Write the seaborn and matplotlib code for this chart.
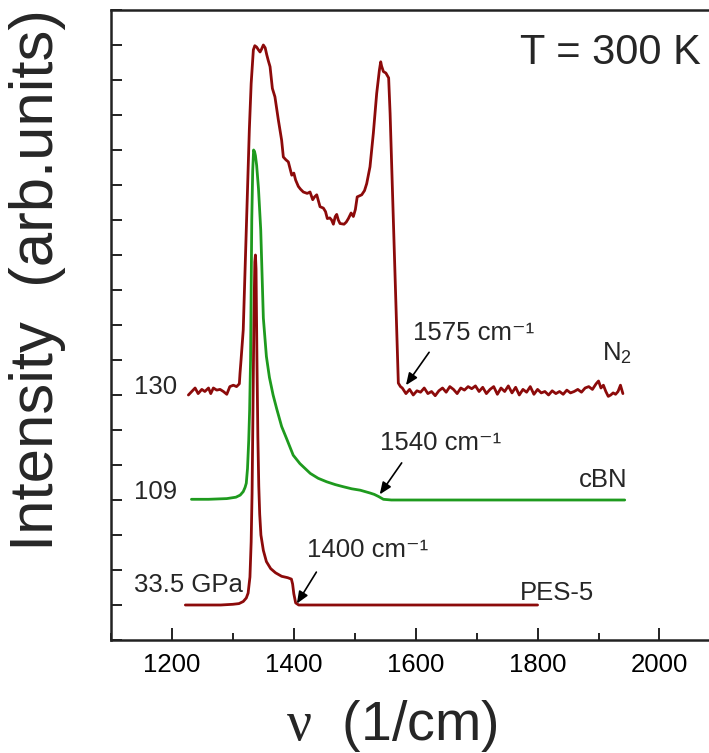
import matplotlib
matplotlib.use("Agg")
import matplotlib.pyplot as plt
import seaborn as sns
from matplotlib.ticker import MultipleLocator

# Raman spectra (offset vertically), wavenumber in 1/cm, intensity in arb. units
pes_x = [1222, 1250, 1280, 1300, 1310, 1317, 1322, 1325, 1328, 1330, 1331.5, 1333,
         1334.5, 1336, 1337, 1338, 1339.5, 1341, 1342.5, 1344, 1346, 1350, 1355,
         1362, 1370, 1380, 1390, 1396, 1398, 1400, 1403, 1408, 1420, 1500, 1600,
         1700, 1800]
pes_y = [0.50, 0.50, 0.50, 0.51, 0.52, 0.55, 0.60, 0.67, 0.90, 1.40, 2.10, 3.30,
         4.60, 5.40, 5.50, 5.30, 4.00, 2.90, 2.20, 1.80, 1.50, 1.28, 1.12,
         1.02, 0.96, 0.91, 0.89, 0.87, 0.80, 0.66, 0.53, 0.50, 0.50, 0.50, 0.50,
         0.50, 0.50]

cbn_x = [1232, 1260, 1290, 1305, 1312, 1317, 1320, 1322, 1324, 1326, 1327.5, 1329,
         1330, 1331, 1332.5, 1334, 1335.5, 1337, 1339, 1342, 1345.7, 1350, 1355,
         1360, 1366, 1372, 1380, 1388, 1399, 1410, 1427, 1440, 1454, 1468, 1481,
         1495, 1509, 1525, 1532, 1539, 1547, 1560, 1600, 1700, 1800, 1900, 1943]
cbn_y = [2.01, 2.01, 2.02, 2.04, 2.07, 2.12, 2.18, 2.24, 2.45, 2.85, 3.29, 4.00,
         5.00, 6.00, 6.70, 7.00, 6.98, 6.92, 6.78, 6.45, 5.86, 4.60, 4.05,
         3.75, 3.50, 3.30, 3.05, 2.88, 2.64, 2.52, 2.38, 2.31, 2.26, 2.22, 2.19,
         2.16, 2.14, 2.10, 2.08, 2.05, 2.01, 2.00, 2.00, 2.00, 2.00, 2.00, 2.00]

n2_x = [1227, 1232.5, 1238, 1243, 1249, 1254, 1260, 1263.7, 1268, 1273.5, 1279,
        1284.4, 1290, 1295, 1300.8, 1306, 1310.6, 1311.7, 1313.4, 1317, 1322,
        1327, 1330, 1333.6, 1336, 1339, 1342, 1344.6, 1347, 1350, 1353, 1355.6,
        1358, 1361, 1364.8, 1369, 1374.6, 1380, 1382.8, 1387, 1391, 1396.6, 1400,
        1403, 1407.4, 1411, 1415.6, 1422, 1426.6, 1431, 1434, 1437.6, 1443,
        1448.5, 1452, 1455, 1459, 1462, 1464.9, 1468, 1470.4, 1473, 1475.8,
        1482.4, 1486, 1489.5, 1494, 1497.7, 1501, 1504, 1511.4, 1516, 1519.6,
        1525, 1530.5, 1536, 1540.4, 1542.6, 1544, 1547, 1551, 1555.6, 1558, 1561,
        1566, 1571.5, 1575, 1578, 1584, 1590, 1596, 1602, 1608, 1614, 1620, 1626,
        1632, 1638, 1644, 1650, 1656, 1662, 1668, 1674, 1680, 1686, 1692, 1698,
        1704, 1710, 1716, 1722, 1728, 1734, 1740, 1746, 1752, 1758, 1764, 1770,
        1776, 1782, 1788, 1794, 1800, 1806, 1812, 1818, 1824, 1830, 1836, 1842,
        1848, 1854, 1860, 1866, 1872, 1878, 1884, 1890, 1896, 1900, 1904, 1908,
        1912, 1916, 1920, 1924, 1928, 1932, 1936, 1940]
n2_y = [3.50, 3.55, 3.60, 3.52, 3.58, 3.55, 3.60, 3.52, 3.60, 3.57, 3.58,
        3.55, 3.51, 3.62, 3.64, 3.62, 3.66, 3.81, 4.00, 4.43, 5.86,
        7.29, 7.95, 8.43, 8.49, 8.47, 8.43, 8.40, 8.44, 8.50, 8.46, 8.36,
        8.28, 8.19, 7.88, 7.76, 7.43, 7.14, 6.90, 6.86, 6.83, 6.64, 6.67,
        6.57, 6.48, 6.44, 6.40, 6.38, 6.40, 6.29, 6.33, 6.36, 6.19,
        6.17, 6.12, 6.02, 6.03, 6.00, 5.94, 6.05, 6.08, 6.00, 5.95,
        5.94, 5.97, 6.02, 6.10, 6.05, 6.15, 6.33, 6.36, 6.42, 6.52,
        6.76, 7.24, 7.81, 8.14, 8.26, 8.20, 8.12, 8.10, 8.03, 7.52, 6.67,
        5.24, 3.67, 3.62, 3.60, 3.52, 3.58, 3.50, 3.56, 3.54, 3.60, 3.52, 3.55,
        3.49, 3.56, 3.60, 3.54, 3.62, 3.58, 3.52, 3.60, 3.57, 3.62, 3.59, 3.63,
        3.55, 3.61, 3.52, 3.58, 3.62, 3.51, 3.60, 3.55, 3.63, 3.53, 3.61, 3.50,
        3.58, 3.54, 3.62, 3.51, 3.58, 3.53, 3.55, 3.50, 3.56, 3.52, 3.55, 3.51,
        3.57, 3.53, 3.55, 3.58, 3.54, 3.60, 3.62, 3.58, 3.66, 3.70, 3.60, 3.64,
        3.55, 3.48, 3.50, 3.53, 3.51, 3.55, 3.64, 3.52]

# pressure labels at the left end of each trace
pressure_labels = ["130", "109", "33.5 GPa"]
pressure_xy = [(1208, 3.61), (1208, 2.11), (1317, 0.79)]

# edge annotations: text, text position, arrow tail, arrow head
edge_labels = ["1575 cm\u207b\u00b9", "1540 cm\u207b\u00b9", "1400 cm\u207b\u00b9"]
edge_text_xy = [(1596, 4.39), (1541, 2.81), (1421, 1.29)]
edge_tail_xy = [(1622, 4.11), (1577, 2.53), (1437, 0.97)]
edge_head_xy = [(1584, 3.64), (1541, 2.08), (1405, 0.52)]

sample_labels = ["N$_{\\mathregular{2}}$", "cBN", "PES-5"]
sample_xy = [(1906, 4.10), (1868, 2.29), (1771, 0.67)]

dark_red = "#8c0a0a"
green = "#1e9a1e"

sns.set_theme(style="white")
plt.rcParams["font.family"] = ["Liberation Sans", "DejaVu Sans"]
plt.rcParams["mathtext.fontset"] = "custom"
plt.rcParams["mathtext.rm"] = "Liberation Serif"
plt.rcParams["mathtext.it"] = "Liberation Serif:italic"
plt.rcParams["mathtext.bf"] = "Liberation Serif:bold"

fig = plt.figure(figsize=(7.09, 7.53), dpi=100)
ax = fig.add_axes([111 / 709, 113 / 753, 609.4 / 709, 630 / 753])

sns.lineplot(x=pes_x, y=pes_y, ax=ax, color=dark_red, lw=2.0, estimator=None, sort=False)
sns.lineplot(x=cbn_x, y=cbn_y, ax=ax, color=green, lw=2.0, estimator=None, sort=False)
sns.lineplot(x=n2_x, y=n2_y, ax=ax, color=dark_red, lw=2.0, estimator=None, sort=False)

ax.set_xlim(1100, 2100)
ax.set_ylim(0, 9)

ax.xaxis.set_major_locator(MultipleLocator(200))
ax.xaxis.set_minor_locator(MultipleLocator(100))
ax.yaxis.set_major_locator(MultipleLocator(0.5))
ax.tick_params(axis="x", which="major", direction="in", length=8.5, width=1.4,
               bottom=True, top=False, labelsize=18.5, pad=9, color="#222222",
               labelcolor="black")
ax.tick_params(axis="x", which="minor", direction="in", length=5, width=1.4,
               bottom=True, top=False, color="#222222")
ax.tick_params(axis="y", which="major", direction="in", length=8, width=1.4,
               left=True, right=False, labelleft=False, color="#222222")

for side in ["left", "bottom", "top"]:
    ax.spines[side].set_color("#222222")
    ax.spines[side].set_linewidth(1.8)
ax.spines["right"].set_visible(False)

ax.set_xlabel("$\\mathrm{\u03bd}$  (1/cm)", fontsize=40, va="center")
ax.xaxis.set_label_coords(0.461, -0.136)
ax.set_ylabel("Intensity  (arb.units)", fontsize=44.5, va="center")
ax.yaxis.set_label_coords(-0.12, 0.571)

for lbl, xy in zip(pressure_labels, pressure_xy):
    ax.text(xy[0], xy[1], lbl, fontsize=18.5, ha="right", va="center")

for lbl, txy, tail, head in zip(edge_labels, edge_text_xy, edge_tail_xy, edge_head_xy):
    ax.text(txy[0], txy[1], lbl, fontsize=18.5, ha="left", va="center")
    ax.annotate("", xy=head, xytext=tail,
                arrowprops=dict(arrowstyle="-|>,head_length=0.6,head_width=0.25",
                                color="black", lw=1.2, shrinkA=0, shrinkB=0))

for lbl, xy in zip(sample_labels, sample_xy):
    ax.text(xy[0], xy[1], lbl, fontsize=18.5, ha="left", va="center")

ax.text(1771, 8.39, "T = 300 K", fontsize=30, ha="left", va="center")

fig.savefig("out.png", dpi=100)
